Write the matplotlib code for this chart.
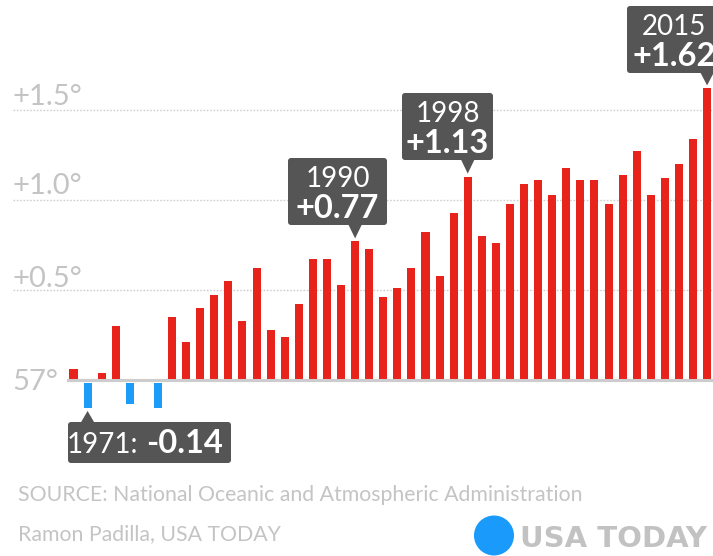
import matplotlib
matplotlib.use('Agg')
import matplotlib.pyplot as plt
from matplotlib.patches import FancyBboxPatch, Polygon, Circle

# ---------------- data ----------------
years = list(range(1970, 2016))
anomalies = [0.06, -0.14, 0.04, 0.30, -0.12, 0.00, -0.14, 0.35, 0.21, 0.40,
             0.47, 0.55, 0.33, 0.62, 0.28, 0.24, 0.42, 0.67, 0.67, 0.53,
             0.77, 0.73, 0.46, 0.51, 0.62, 0.82, 0.58, 0.93, 1.13, 0.80,
             0.76, 0.98, 1.09, 1.11, 1.03, 1.18, 1.11, 1.11, 0.98, 1.14,
             1.27, 1.03, 1.12, 1.20, 1.34, 1.62]
tick_values = [1.5, 1.0, 0.5]
tick_labels = ['+1.5°', '+1.0°', '+0.5°']
base_label = '57°'
highlight_years = [1990, 1998, 2015]
highlight_labels = ['+0.77', '+1.13', '+1.62']
low_year = 1971
low_label = '-0.14'
source_text = 'SOURCE: National Oceanic and Atmospheric Administration'
credit_text = 'Ramon Padilla, USA TODAY'
logo_text = 'USA TODAY'

# ---------------- style ----------------
W, H = 713, 556
RED = '#e8231b'
BLUE = '#1c9cf6'
BOX = '#555555'
GRID = '#cfcfcf'
LABEL = '#c4c4c4'
FONT = ['Lato', 'DejaVu Sans']

fig = plt.figure(figsize=(W / 100, H / 100), dpi=100)
fig.patch.set_facecolor('white')

ax = fig.add_axes([0, 0, 1, 1])
step = 14.08
x0px = 73.5
ax.set_xlim(1970 - x0px / step, 1970 + (W - x0px) / step)
scale = 180.0
base_px = 380.0
ax.set_ylim(-(H - base_px) / scale, base_px / scale)
ax.axis('off')

gap = 0.015
for y, v in zip(years, anomalies):
    if v >= 0:
        ax.bar(y, v, width=0.57, color=RED, zorder=2)
    else:
        ax.bar(y, v, width=0.57, bottom=-gap, color=BLUE, zorder=2)

for tv in tick_values:
    ax.axhline(tv, xmin=13 / W, xmax=1, color=GRID, lw=1.0,
               linestyle=(0, (1.2, 1.2)), zorder=1)
ax.axhline(0, xmin=68 / W, xmax=1, color='#cccccc', lw=2.2, zorder=3)

for tv, tl, off in zip(tick_values, tick_labels, [5, 6, 3]):
    ax.annotate(tl, xy=(13 / W, tv), xycoords=('axes fraction', 'data'),
                xytext=(0, off), textcoords='offset pixels', va='baseline',
                ha='left', fontsize=21, color=LABEL, family=FONT,
                fontweight='normal')
ax.annotate(base_label, xy=(12 / W, 0), xycoords=('axes fraction', 'data'),
            xytext=(0, -10), textcoords='offset pixels', va='baseline',
            ha='left', fontsize=21, color=LABEL, family=FONT,
            fontweight='normal')

# overlay in pixel coordinates
ov = fig.add_axes([0, 0, 1, 1], zorder=5)
ov.set_xlim(0, W)
ov.set_ylim(H, 0)
ov.axis('off')
ov.patch.set_alpha(0)


def to_px(x, y):
    dx, dy = ax.transData.transform((x, y))
    return dx, H - dy


def box(x0, y0, x1, y1):
    ov.add_patch(FancyBboxPatch((x0 + 3, y0 + 3), x1 - x0 - 6, y1 - y0 - 6,
                                boxstyle='round,pad=3', fc=BOX, ec='none',
                                zorder=5))


# 2-line callouts
boxes = {1990: (288, 158, 387), 1998: (402, 93, 493), 2015: (627, 6, 721)}
for yr, lab in zip(highlight_years, highlight_labels):
    bx0, by0, bx1 = boxes[yr]
    by1 = by0 + 67
    box(bx0, by0, bx1, by1)
    v = anomalies[years.index(yr)]
    tx, ty = to_px(yr, v)
    ty -= 3
    ov.add_patch(Polygon([(tx - 7, by1 - 1), (tx + 7, by1 - 1), (tx, ty)],
                         closed=True, fc=BOX, ec='none', zorder=5))
    cx = (bx0 + bx1) / 2
    ov.text(cx, by0 + 29, str(yr), ha='center', va='baseline', fontsize=20,
            color='white', family=FONT, fontweight='normal', zorder=6)
    ov.text(cx, by0 + 60, lab, ha='center', va='baseline', fontsize=23.5,
            color='white', family=FONT, fontweight='bold', zorder=6)

# low callout
lv = anomalies[years.index(low_year)]
tx, ty = to_px(low_year, lv - gap)
box(68, 422, 231, 463)
ov.add_patch(Polygon([(tx - 7, 423), (tx + 7, 423), (tx, ty + 3)],
                     closed=True, fc=BOX, ec='none', zorder=5))
ov.text(138, 453, f'{low_year}:', ha='right', va='baseline', fontsize=20,
        color='white', family=FONT, fontweight='normal', zorder=6)
ov.text(146, 453, low_label, ha='left', va='baseline', fontsize=23.5,
        color='white', family=FONT, fontweight='bold', zorder=6)

# footer
ov.text(18, 501, source_text, ha='left', va='baseline', fontsize=15.3,
        color=LABEL, family=FONT, fontweight='normal')
ov.text(18, 540, credit_text, ha='left', va='baseline', fontsize=15.3,
        color=LABEL, family=FONT, fontweight='normal')
ov.add_patch(Circle((494, 535.5), 20, fc='#1a9bfb', ec='none'))
ov.text(520, 547, logo_text, ha='left', va='baseline', fontsize=21,
        color='#c2c2c2', family=['DejaVu Sans'], fontweight='bold')

fig.savefig('out.png', dpi=100, facecolor='white')
